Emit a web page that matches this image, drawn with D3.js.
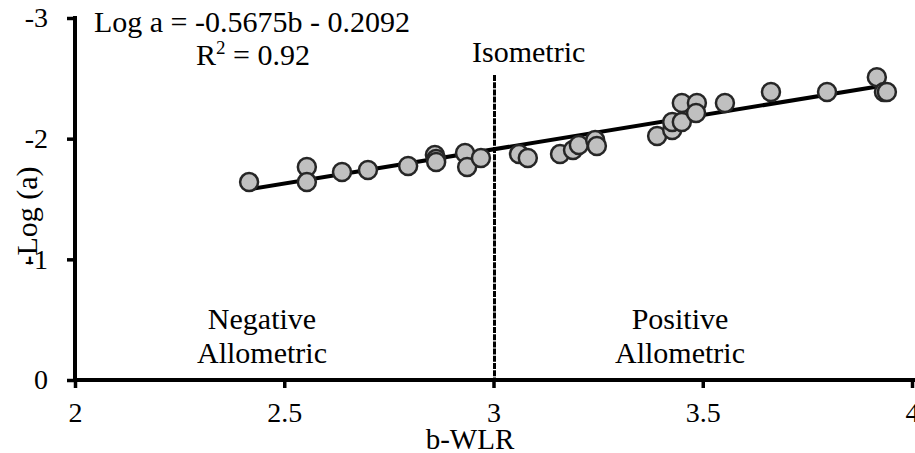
<!DOCTYPE html>
<html>
<head>
<meta charset="utf-8">
<script src="https://cdn.jsdelivr.net/npm/d3@7"></script>
<style>
  body { margin: 0; background: #fff; }
  svg text { font-family: "Liberation Serif", "Times New Roman", serif; fill: #000; }
  .axis path, .axis line { stroke: #000; }
</style>
</head>
<body>
<svg width="915" height="453"></svg>
<script>
// b-WLR (slope of weight-length relation) and log(a) for each stock
const bValues = [2.416, 2.554, 2.554, 2.638, 2.700, 2.796, 2.860, 2.863, 2.863, 2.932, 2.937,
  2.970, 3.061, 3.082, 3.159, 3.190, 3.204, 3.243, 3.247, 3.391, 3.427, 3.427, 3.450, 3.450,
  3.486, 3.484, 3.553, 3.663, 3.797, 3.916, 3.933, 3.940];
const logA = [-1.640, -1.765, -1.640, -1.723, -1.740, -1.773, -1.864, -1.831, -1.806, -1.881, -1.765,
  -1.839, -1.872, -1.839, -1.872, -1.906, -1.947, -1.988, -1.939, -2.022, -2.071, -2.138, -2.138, -2.295,
  -2.295, -2.212, -2.295, -2.386, -2.386, -2.510, -2.386, -2.386];
const xTicks = [2, 2.5, 3, 3.5, 4];
const yTicks = [0, -1, -2, -3];
// trendline: Log a = -0.5675b - 0.2092
const slope = -0.5675, intercept = -0.2092;

const svg = d3.select('svg');

const x = d3.scaleLinear().domain([2, 4]).range([75, 912]);
const y = d3.scaleLinear().domain([0, -3]).range([380, 18]);

const points = bValues.map((b, i) => [b, logA[i]]);

// isometric divider
svg.append('line')
  .attr('x1', x(3) + 1).attr('x2', x(3) + 1)
  .attr('y1', 75).attr('y2', y(0))
  .attr('stroke', '#000')
  .attr('stroke-width', 3)
  .attr('stroke-dasharray', '6,1.2');

// axes
const xAxis = svg.append('g')
  .attr('class', 'axis')
  .attr('transform', `translate(0, ${y(0)})`)
  .call(d3.axisBottom(x).tickValues(xTicks).tickFormat(d => String(d))
    .tickSize(8).tickSizeOuter(0).tickPadding(14));
xAxis.select('.domain').attr('stroke-width', 4).attr('d', `M${x(2) - 2},0H915`);
xAxis.selectAll('line').attr('stroke-width', 3.5);
xAxis.selectAll('text').attr('font-size', 28);

const yAxis = svg.append('g')
  .attr('class', 'axis')
  .attr('transform', `translate(${x(2)}, 0)`)
  .call(d3.axisLeft(y).tickValues(yTicks).tickFormat(d => String(d))
    .tickSize(8).tickSizeOuter(0).tickPadding(19));
yAxis.select('.domain').attr('stroke-width', 4).attr('d', `M0,${y(-3) - 2}V${y(0)}`);
yAxis.selectAll('line').attr('stroke-width', 3.5);
yAxis.selectAll('text').attr('font-size', 28);

// trendline
const bExtent = d3.extent(bValues);
svg.append('line')
  .attr('x1', x(bExtent[0])).attr('y1', y(slope * bExtent[0] + intercept))
  .attr('x2', x(bExtent[1])).attr('y2', y(slope * bExtent[1] + intercept))
  .attr('stroke', '#000')
  .attr('stroke-width', 4);

// data points
svg.append('g')
  .selectAll('circle')
  .data(points)
  .enter()
  .append('circle')
  .attr('cx', d => x(d[0]))
  .attr('cy', d => y(d[1]))
  .attr('r', 9)
  .attr('fill', '#c0c0c0')
  .attr('stroke', '#262626')
  .attr('stroke-width', 2.5);

// trendline label
svg.append('text')
  .attr('x', 252).attr('y', 32)
  .attr('text-anchor', 'middle')
  .attr('font-size', 30)
  .text('Log a = -0.5675b - 0.2092');

const r2 = svg.append('text')
  .attr('x', 253).attr('y', 65)
  .attr('text-anchor', 'middle')
  .attr('font-size', 30);
r2.append('tspan').text('R');
r2.append('tspan').attr('font-size', 19).attr('dy', -11).text('2');
r2.append('tspan').attr('dy', 11).text(' = 0.92');

svg.append('text')
  .attr('x', 472).attr('y', 62)
  .attr('font-size', 30)
  .text('Isometric');

const regionLabels = [
  { cx: 262, lines: ['Negative', 'Allometric'] },
  { cx: 680, lines: ['Positive', 'Allometric'] }
];
regionLabels.forEach(r => {
  r.lines.forEach((t, i) => {
    svg.append('text')
      .attr('x', r.cx).attr('y', 329 + i * 34)
      .attr('text-anchor', 'middle')
      .attr('font-size', 30)
      .text(t);
  });
});

svg.append('text')
  .attr('x', 470).attr('y', 449)
  .attr('text-anchor', 'middle')
  .attr('font-size', 29)
  .text('b-WLR');

svg.append('text')
  .attr('transform', 'translate(37, 216) rotate(-90)')
  .attr('text-anchor', 'middle')
  .attr('font-size', 30)
  .text('-Log (a)');
</script>
</body>
</html>
